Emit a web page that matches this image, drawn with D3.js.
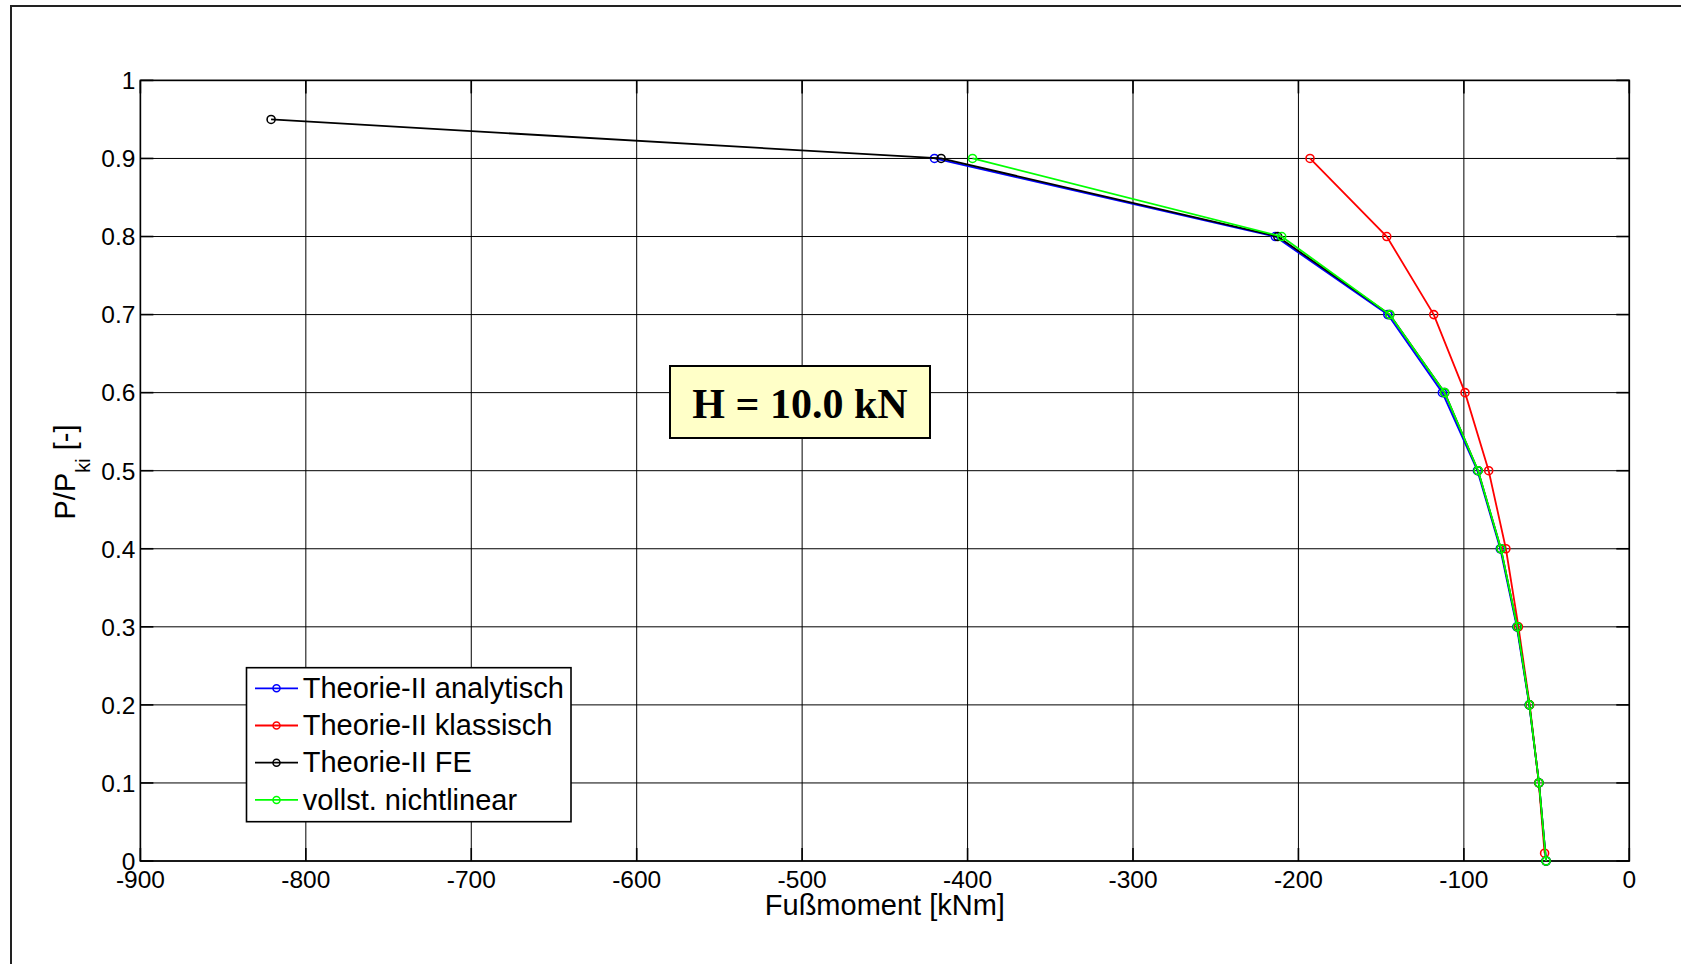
<!DOCTYPE html>
<html>
<head>
<meta charset="utf-8">
<script src="https://cdn.jsdelivr.net/npm/d3@7"></script>
<style>
    body { margin: 0; background: white; }
    svg { display: block; font-family: 'Liberation Sans', Arial, sans-serif; }
</style>
</head>
<body>
<svg id="chart" width="1681" height="964"></svg>
<script>
// values
var loadLevels = [0, 0.1, 0.2, 0.3, 0.4, 0.5, 0.6, 0.7, 0.8, 0.9];
var analytischMoment = [-50.3, -54.6, -60.5, -68, -78, -91.8, -113, -146, -214, -420];
var klassischLoad = [0.01, 0.1, 0.2, 0.3, 0.4, 0.5, 0.6, 0.7, 0.8, 0.9];
var klassischMoment = [-51.2, -54.7, -60.2, -67, -74.6, -85, -99.3, -118.2, -146.6, -193];
var feLoad = [0, 0.1, 0.2, 0.3, 0.4, 0.5, 0.6, 0.7, 0.8, 0.9, 0.95];
var feMoment = [-50.3, -54.6, -60.4, -67.7, -77.6, -91.4, -111.6, -144.8, -212.5, -416, -821];
var nichtlinearMoment = [-50.3, -54.6, -60.4, -67.7, -77.6, -91.4, -111.6, -144.8, -210.1, -397];
var xTicks = [-900, -800, -700, -600, -500, -400, -300, -200, -100, 0];
var yTicks = [0, 0.1, 0.2, 0.3, 0.4, 0.5, 0.6, 0.7, 0.8, 0.9, 1];
var seriesNames = ['Theorie-II analytisch', 'Theorie-II klassisch', 'Theorie-II FE', 'vollst. nichtlinear'];
var seriesColors = ['#0000ff', '#ff0000', '#000000', '#00ff00'];
var titleText = 'H = 10.0 kN';

var LEFT = 140.4, RIGHT = 1629.3, TOP = 80.4, BOTTOM = 861;
var TICK_LEN = 13;

function zip(xs, ys) {
    return xs.map(function (x, i) { return [x, ys[i]]; });
}
var series = [
    zip(analytischMoment, loadLevels),
    zip(klassischMoment, klassischLoad),
    zip(feMoment, feLoad),
    zip(nichtlinearMoment, loadLevels)
];

var svg = d3.select('#chart');
var xScale = d3.scaleLinear().domain([-900, 0]).range([LEFT, RIGHT]);
var yScale = d3.scaleLinear().domain([0, 1]).range([BOTTOM, TOP]);
var yFormat = function (d) { return String(+d.toFixed(1)); };

// figure frame
svg.append('rect').
    attr('x', 11).attr('y', 6).
    attr('width', 1700).attr('height', 1000).
    attr('fill', 'white').attr('stroke', '#222').attr('stroke-width', 2);

// grid
var grid = svg.append('g').attr('stroke', '#000').attr('stroke-width', 1);
grid.selectAll('line.vx').data(xTicks).enter().append('line').
    attr('x1', xScale).attr('x2', xScale).
    attr('y1', TOP).attr('y2', BOTTOM);
grid.selectAll('line.hy').data(yTicks).enter().append('line').
    attr('y1', yScale).attr('y2', yScale).
    attr('x1', LEFT).attr('x2', RIGHT);

// inward ticks on all four sides
var ticks = svg.append('g').attr('stroke', '#000').attr('stroke-width', 1.6);
xTicks.forEach(function (t) {
    ticks.append('line').attr('x1', xScale(t)).attr('x2', xScale(t)).attr('y1', BOTTOM).attr('y2', BOTTOM - TICK_LEN);
    ticks.append('line').attr('x1', xScale(t)).attr('x2', xScale(t)).attr('y1', TOP).attr('y2', TOP + TICK_LEN);
});
yTicks.forEach(function (t) {
    ticks.append('line').attr('y1', yScale(t)).attr('y2', yScale(t)).attr('x1', LEFT).attr('x2', LEFT + TICK_LEN);
    ticks.append('line').attr('y1', yScale(t)).attr('y2', yScale(t)).attr('x1', RIGHT).attr('x2', RIGHT - TICK_LEN);
});

// axes box
svg.append('rect').
    attr('x', LEFT).attr('y', TOP).
    attr('width', RIGHT - LEFT).attr('height', BOTTOM - TOP).
    attr('fill', 'none').attr('stroke', '#000').attr('stroke-width', 1.6);

// tick labels
svg.append('g').selectAll('text').data(xTicks).enter().append('text').
    attr('x', xScale).attr('y', 887.7).
    attr('text-anchor', 'middle').attr('font-size', 24.5).
    text(function (d) { return d; });
svg.append('g').selectAll('text').data(yTicks).enter().append('text').
    attr('x', LEFT - 5).attr('y', yScale).attr('dy', '0.36em').
    attr('text-anchor', 'end').attr('font-size', 24.5).
    text(yFormat);

// axis labels
svg.append('text').
    attr('x', (LEFT + RIGHT) / 2).attr('y', 915).
    attr('text-anchor', 'middle').attr('font-size', 29).
    text('Fußmoment [kNm]');
var yLabel = svg.append('text').
    attr('transform', 'translate(75,472)rotate(-90)').
    attr('text-anchor', 'middle').attr('font-size', 29);
yLabel.append('tspan').text('P/P');
yLabel.append('tspan').attr('font-size', 20).attr('dy', 15).text('ki');
yLabel.append('tspan').attr('dy', -15).text(' [-]');

// data lines and markers
var line = d3.line().
    x(function (d) { return xScale(d[0]); }).
    y(function (d) { return yScale(d[1]); });
series.forEach(function (points, i) {
    var g = svg.append('g');
    g.append('path').datum(points).
        attr('d', line).
        attr('fill', 'none').attr('stroke', seriesColors[i]).attr('stroke-width', 1.8);
    g.selectAll('circle').data(points).enter().append('circle').
        attr('cx', function (d) { return xScale(d[0]); }).
        attr('cy', function (d) { return yScale(d[1]); }).
        attr('r', 4).
        attr('fill', 'none').attr('stroke', seriesColors[i]).attr('stroke-width', 1.6);
});

// annotation box
svg.append('rect').
    attr('x', 670).attr('y', 366).attr('width', 260).attr('height', 72).
    attr('fill', '#ffffc8').attr('stroke', '#000').attr('stroke-width', 2);
svg.append('text').
    attr('x', 800).attr('y', 418).
    attr('text-anchor', 'middle').
    attr('font-family', "'Liberation Serif', 'Times New Roman', serif").
    attr('font-weight', 'bold').attr('font-size', 42).
    text(titleText);

// legend
var legend = svg.append('g');
legend.append('rect').
    attr('x', 246.5).attr('y', 667.7).attr('width', 324.5).attr('height', 154).
    attr('fill', 'white').attr('stroke', '#000').attr('stroke-width', 1.6);
var rows = legend.selectAll('g.row').data(seriesNames).enter().append('g').
    attr('transform', function (d, i) { return 'translate(0,' + (688.3 + i * 37.2) + ')'; });
rows.append('line').
    attr('x1', 255).attr('x2', 298).
    attr('stroke', function (d, i) { return seriesColors[i]; }).attr('stroke-width', 1.8);
rows.append('circle').
    attr('cx', 276.5).attr('r', 3.5).
    attr('fill', 'none').attr('stroke', function (d, i) { return seriesColors[i]; }).attr('stroke-width', 1.5);
rows.append('text').
    attr('x', 302.7).attr('y', 9.6).
    attr('font-size', 29).
    text(function (d) { return d; });
</script>
</body>
</html>
